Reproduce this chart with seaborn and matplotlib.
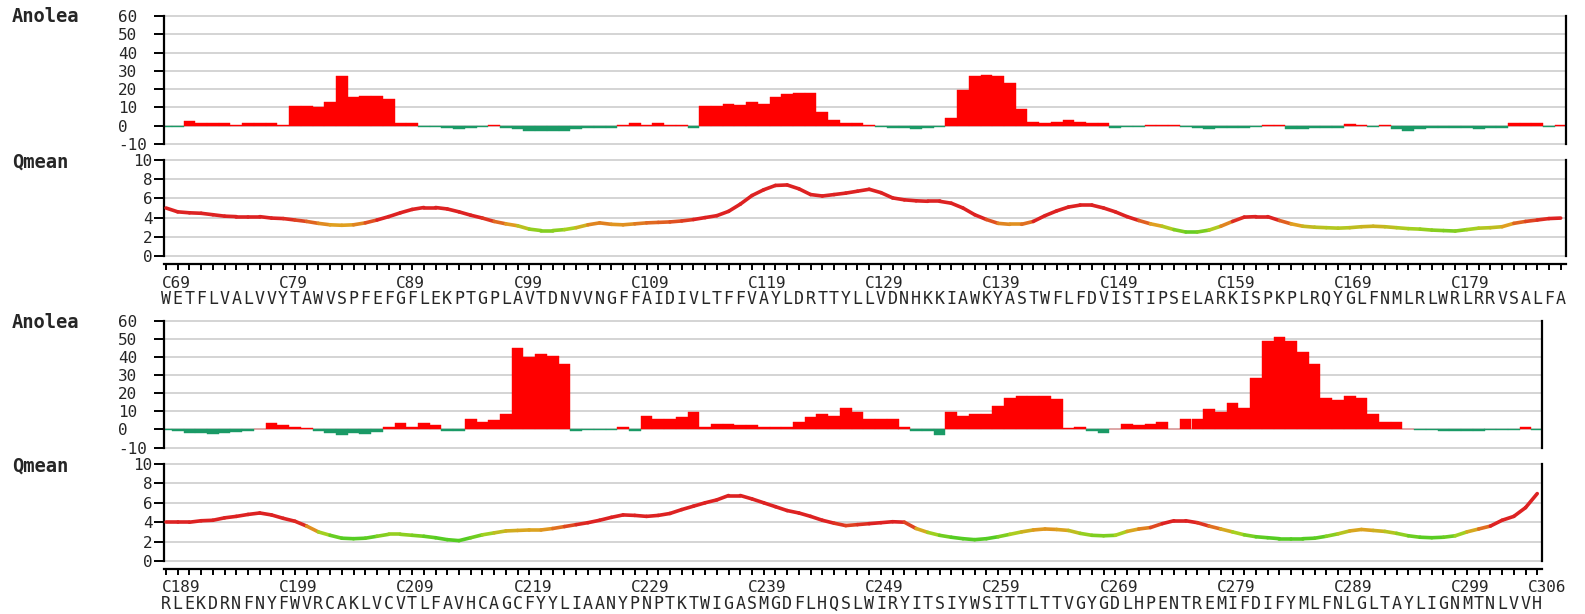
import numpy as np
import pandas as pd
import matplotlib
matplotlib.use("Agg")
import matplotlib.pyplot as plt
import seaborn as sns
from matplotlib.collections import LineCollection
from matplotlib.colors import LinearSegmentedColormap, Normalize

# ---------------------------------------------------------------- data
seq1 = "WETFLVALVVYTAWVSPFEFGFLEKPTGPLAVTDNVVNGFFAIDIVLTFFVAYLDRTTYLLVDNHKKIAWKYASTWFLFDVISTIPSELARKISPKPLRQYGLFNMLRLWRLRRVSALFA"
start1 = 69
anolea1 = [-0.5, -0.5, 2.4, 1.3, 1.3, 1.3, 0.5, 1.3, 1.3, 1.3,
           0.5, 10.9, 10.9, 10.2, 13.0, 27.0, 15.6, 16.3, 16.3, 14.6,
           1.3, 1.3, -0.5, -0.5, -1.0, -1.8, -1.0, -0.5, 0.5, -1.0,
           -1.8, -2.8, -2.8, -2.8, -2.8, -1.8, -1.0, -1.0, -1.0, 0.5,
           1.3, 0.5, 1.3, 0.5, 0.5, -1.0, 10.9, 10.9, 11.8, 11.1,
           13.0, 11.8, 15.6, 17.2, 18.1, 18.1, 7.4, 3.1, 1.3, 1.3,
           0.5, -0.5, -1.0, -1.0, -1.8, -1.0, -0.5, 4.1, 19.3, 27.0,
           28.0, 27.0, 23.5, 9.4, 2.0, 1.3, 2.0, 3.1, 2.0, 1.3,
           1.3, -1.0, -0.5, -0.5, 0.5, 0.5, 0.5, -0.5, -1.0, -1.8,
           -1.0, -1.0, -1.0, -0.5, 0.5, 0.5, -1.8, -1.8, -1.0, -1.0,
           -1.0, 1.0, 0.5, -0.5, 0.5, -1.8, -2.8, -1.8, -1.0, -1.0,
           -1.0, -1.0, -1.8, -1.0, -1.0, 1.3, 1.3, 1.3, -0.5, 0.5]
qmean1 = [5.0, 4.6, 4.5, 4.45, 4.3, 4.15, 4.1, 4.1, 4.1, 3.95,
          3.9, 3.75, 3.6, 3.4, 3.25, 3.2, 3.25, 3.45, 3.75, 4.1,
          4.5, 4.85, 5.05, 5.05, 4.9, 4.6, 4.25, 3.95, 3.6, 3.35,
          3.15, 2.8, 2.65, 2.65, 2.75, 2.95, 3.25, 3.45, 3.3, 3.25,
          3.35, 3.45, 3.5, 3.55, 3.65, 3.8, 4.0, 4.2, 4.65, 5.4,
          6.3, 6.9, 7.35, 7.4, 7.0, 6.4, 6.25, 6.4, 6.55, 6.75,
          6.95, 6.6, 6.05, 5.85, 5.75, 5.7, 5.7, 5.5, 5.0, 4.3,
          3.8, 3.4, 3.3, 3.3, 3.6, 4.2, 4.7, 5.1, 5.3, 5.3,
          5.0, 4.6, 4.1, 3.7, 3.35, 3.1, 2.75, 2.5, 2.5, 2.7,
          3.1, 3.6, 4.05, 4.1, 4.1, 3.7, 3.35, 3.1, 3.0, 2.95,
          2.9, 2.95, 3.05, 3.1, 3.05, 2.95, 2.85, 2.8, 2.7, 2.65,
          2.6, 2.75, 2.9, 2.95, 3.05, 3.4, 3.6, 3.75, 3.9, 3.95]

seq2 = "RLEKDRNFNYFWVRCAKLVCVTLFAVHCAGCFYYLIAANYPNPTKTWIGASMGDFLHQSLWIRYITSIYWSITTLTTVGYGDLHPENTREMIFDIFYMLFNLGLTAYLIGNMTNLVVH"
start2 = 189
anolea2 = [-0.5, -1.0, -1.8, -1.8, -2.8, -2.0, -1.5, -0.8, 0.5, 3.5,
           2.5, 1.5, 0.8, -0.8, -2.0, -3.0, -2.0, -2.5, -1.5, 1.3,
           3.3, 1.5, 3.3, 2.3, -1.0, -1.0, 6.0, 4.2, 5.1, 8.7,
           45.0, 40.0, 41.5, 40.9, 36.4, -1.0, -0.5, -0.5, -0.5, 1.3,
           -1.0, 7.6, 5.8, 5.8, 6.7, 9.5, 1.5, 3.1, 3.1, 2.4,
           2.4, 1.5, 1.5, 1.5, 4.2, 6.9, 8.4, 7.6, 12.0, 9.5,
           5.8, 5.8, 5.8, 1.5, -1.0, -1.0, -3.3, 9.5, 7.6, 8.5,
           8.5, 12.7, 17.3, 18.7, 18.7, 18.7, 17.1, 0.9, 1.5, -1.0,
           -2.0, 0.5, 3.2, 2.4, 3.2, 4.0, 0.5, 5.8, 5.8, 11.3,
           9.5, 14.5, 12.0, 28.5, 48.7, 51.0, 48.7, 43.0, 36.4, 17.3,
           16.4, 18.7, 17.6, 8.5, 4.2, 4.2, 0.5, -0.5, -0.5, -0.7,
           -0.7, -0.7, -0.7, -0.5, -0.5, -0.5, 1.3, -0.5]
qmean2 = [4.0, 4.0, 4.0, 4.15, 4.2, 4.45, 4.6, 4.8, 4.95, 4.75,
          4.4, 4.1, 3.6, 3.0, 2.65, 2.35, 2.3, 2.35, 2.55, 2.75,
          2.75, 2.65, 2.55, 2.4, 2.2, 2.1, 2.4, 2.7, 2.9, 3.1,
          3.15, 3.2, 3.2, 3.35, 3.55, 3.75, 3.95, 4.2, 4.5, 4.75,
          4.7, 4.6, 4.7, 4.9, 5.3, 5.65, 6.0, 6.3, 6.75, 6.75,
          6.4, 6.0, 5.6, 5.2, 4.95, 4.6, 4.2, 3.9, 3.65, 3.75,
          3.85, 3.95, 4.05, 4.0, 3.35, 2.95, 2.65, 2.45, 2.3, 2.2,
          2.3, 2.5, 2.75, 3.0, 3.2, 3.3, 3.25, 3.15, 2.85, 2.65,
          2.6, 2.65, 3.05, 3.3, 3.45, 3.85, 4.15, 4.15, 3.95, 3.6,
          3.3, 3.0, 2.7, 2.5, 2.4, 2.3, 2.3, 2.3, 2.35, 2.55,
          2.8, 3.1, 3.25, 3.15, 3.05, 2.85, 2.6, 2.45, 2.4, 2.45,
          2.6, 3.0, 3.3, 3.6, 4.2, 4.6, 5.5, 6.95]
end_label2 = "C306"

anolea_ticks = [-10, 0, 10, 20, 30, 40, 50, 60]
qmean_ticks = [0, 2, 4, 6, 8, 10]

# ---------------------------------------------------------------- style
sns.set_theme(style="white")
plt.rcParams["font.family"] = ["DejaVu Sans Mono"]
plt.rcParams["axes.unicode_minus"] = False

RED = "#ff0000"
GREEN = "#1a9a66"
GRID = "#d4d4d4"
qcmap = LinearSegmentedColormap.from_list(
    "qmean", [(0.0, "#55cc22"), (0.3, "#a8d020"), (0.55, "#e0a020"),
              (0.8, "#e05020"), (1.0, "#dd2222")])
qnorm = Normalize(vmin=2.4, vmax=3.9)

W, H = 1585, 614
fig = plt.figure(figsize=(W / 100, H / 100), dpi=100)


def add_px_axes(left, top, right, bottom):
    return fig.add_axes([left / W, 1 - bottom / H, (right - left) / W, (bottom - top) / H])


def draw_block(seq, start, anolea, qmean, y60, ym10, y10, y0, yline, right, end_label=None):
    n = len(seq)
    left = 164
    x0, step = 166, 11.72
    xlo = (left - x0) / step
    xhi = (right - x0) / step

    # ---- Anolea energy bars
    ppu = (ym10 - y60) / 70.0
    ext = 0.6
    ax = add_px_axes(left, y60 - ext * ppu, right, ym10 + ext * ppu)
    df = pd.DataFrame({"pos": np.arange(n), "energy": anolea})
    df["sign"] = np.where(df["energy"] >= 0, "pos", "neg")
    sns.barplot(data=df, x="pos", y="energy", hue="sign",
                palette={"pos": RED, "neg": GREEN}, saturation=1,
                native_scale=True, width=1.0, dodge=False, errorbar=None,
                legend=False, linewidth=0, ax=ax)
    for p in ax.patches:
        p.set_edgecolor(p.get_facecolor())
        p.set_linewidth(0.3)
    ax.set_xlim(xlo, xhi)
    ax.set_ylim(-10 - ext, 60 + ext)
    ax.set_yticks(anolea_ticks)
    ax.set_yticklabels([str(t) for t in anolea_ticks], fontsize=11.5)
    for lbl in ax.get_yticklabels():
        lbl.set_horizontalalignment("left")
    ax.tick_params(axis="y", left=True, length=7.2, width=1.4, pad=26, color="black")
    ax.tick_params(axis="x", bottom=False, labelbottom=False)
    ax.set_xlabel("")
    ax.set_ylabel("")
    ax.yaxis.grid(True, color=GRID, lw=1.4)
    ax.set_axisbelow(True)
    for s in ("top", "bottom"):
        ax.spines[s].set_visible(False)
    for s in ("left", "right"):
        ax.spines[s].set_visible(True)
        ax.spines[s].set_color("black")
        ax.spines[s].set_linewidth(1.6)
        ax.spines[s].set_bounds(-10, 60)
    fig.text(12 / W, 1 - (y60 + 1) / H, "Anolea", fontsize=13.5, fontweight="bold",
             va="center", ha="left")

    # ---- Qmean profile
    qppu = (y0 - y10) / 10.0
    lo = -(yline - y0) / qppu
    axq = add_px_axes(left, y10 - 0.1 * qppu, right, yline)
    axq.set_xlim(xlo, xhi)
    axq.set_ylim(lo, 10.1)
    xs = np.arange(n)
    qs = np.asarray(qmean, dtype=float)
    sns.lineplot(x=xs, y=qs, ax=axq, color="none", lw=0)
    pts = np.column_stack([xs, qs]).reshape(-1, 1, 2)
    segs = np.concatenate([pts[:-1], pts[1:]], axis=1)
    mids = 0.5 * (qs[:-1] + qs[1:])
    lc = LineCollection(segs, colors=qcmap(qnorm(mids)), linewidths=2.6,
                        capstyle="round", joinstyle="round", zorder=3)
    axq.add_collection(lc)
    axq.set_yticks(qmean_ticks)
    axq.set_yticklabels([str(t) for t in qmean_ticks], fontsize=11.5)
    axq.tick_params(axis="y", left=True, length=7.2, width=1.4, pad=1, color="black")
    axq.set_xticks(np.arange(n))
    axq.set_xticklabels([])
    axq.tick_params(axis="x", bottom=True, direction="out", length=4.5, width=1.4,
                    color="black")
    axq.yaxis.grid(True, color=GRID, lw=1.4)
    axq.xaxis.grid(False)
    axq.set_axisbelow(True)
    axq.spines["top"].set_visible(False)
    for s in ("left", "right", "bottom"):
        axq.spines[s].set_visible(True)
        axq.spines[s].set_color("black")
        axq.spines[s].set_linewidth(1.6)
    axq.spines["left"].set_bounds(0, 10)
    axq.spines["right"].set_bounds(0, 10)
    fig.text(12 / W, 1 - (y10 + 2) / H, "Qmean", fontsize=13.5, fontweight="bold",
             va="center", ha="left")

    # ---- residue numbers and sequence
    for k in range(0, n, 10):
        axq.annotate(f"C{start + k}", xy=(k - 0.35, 0), xycoords=("data", "axes fraction"),
                     xytext=(0, -19), textcoords="offset pixels",
                     ha="left", va="center", fontsize=11.5, annotation_clip=False)
    if end_label is not None:
        axq.annotate(end_label, xy=(n - 1 - 0.8, 0), xycoords=("data", "axes fraction"),
                     xytext=(0, -19), textcoords="offset pixels",
                     ha="left", va="center", fontsize=11.5, annotation_clip=False)
    for i, aa in enumerate(seq):
        axq.annotate(aa, xy=(i, 0), xycoords=("data", "axes fraction"),
                     xytext=(0, -35), textcoords="offset pixels",
                     ha="center", va="center", fontsize=12, annotation_clip=False)


draw_block(seq1, start1, anolea1, qmean1, y60=16, ym10=144, y10=160, y0=256, yline=264, right=1566)
draw_block(seq2, start2, anolea2, qmean2, y60=321, ym10=447.5, y10=464, y0=561, yline=569, right=1542,
           end_label=end_label2)

fig.savefig("out.png", dpi=100, facecolor="white")
